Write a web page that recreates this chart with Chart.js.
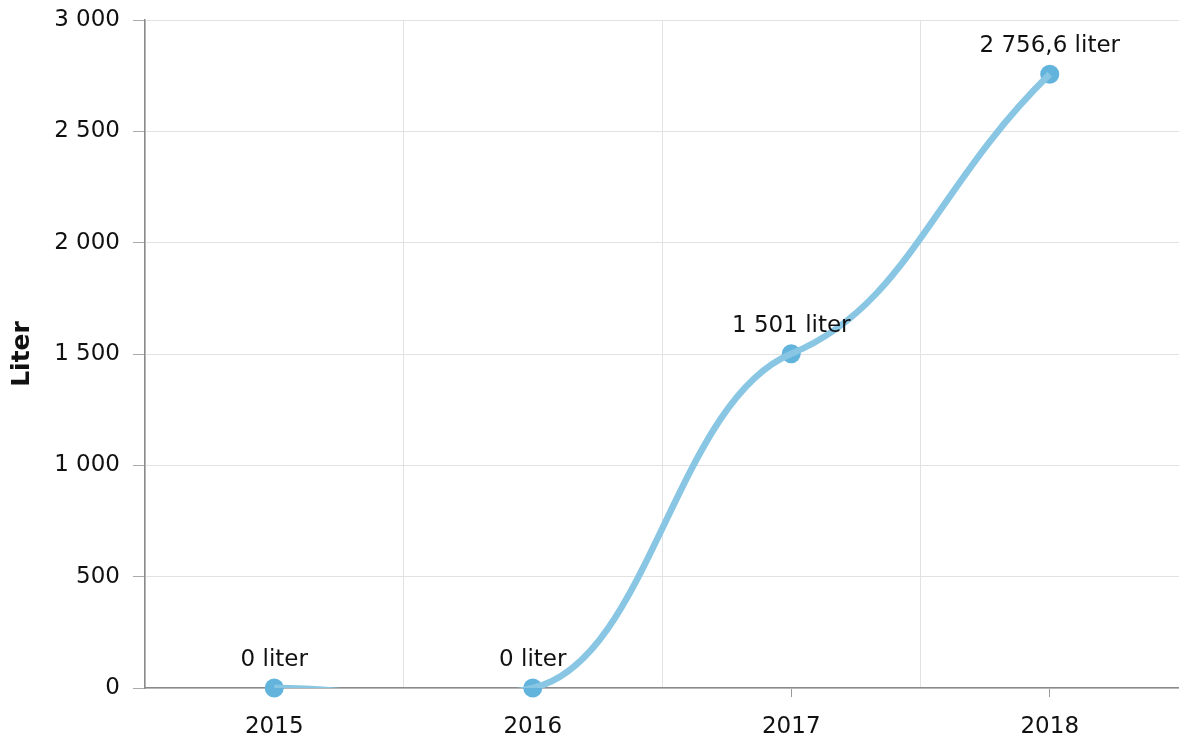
<!DOCTYPE html>
<html>
<head>
<meta charset="utf-8">
<script src="https://cdn.jsdelivr.net/npm/chart.js@4"></script>
<style>
    html, body { margin: 0; padding: 0; background: #fff; }
    #wrap { width: 1179px; height: 740px; }
</style>
</head>
<body>
<div id="wrap"><canvas id="chart"></canvas></div>
<script>
const years = ['2015', '2016', '2017', '2018'];
const liters = [0, 0, 1501, 2756.6];
const unit = 'liter';

const LINE = '#88c6e4';
const POINT = '#62b4dc';
const FONT = 'DejaVu Sans';

//tall med mellomrom som tusenskille og komma som desimaltegn
function fmt(v) {
    const parts = String(Math.round(v * 10) / 10).split('.');
    const int = parts[0].replace(/\B(?=(\d{3})+(?!\d))/g, ' ');
    return parts[1] ? int + ',' + parts[1] : int;
}

//egen glatting: flate tangenter i punktene, lange kontrollarmer
const smoothCurve = {
    id: 'smoothCurve',
    beforeDatasetDraw(chart, args) {
        if (args.index !== 0) return;
        const meta = args.meta;
        const line = meta.dataset;
        line.updateControlPoints(chart.chartArea, 'x');
        const pts = meta.data;
        const n = pts.length;
        const slope = i => {
            if (i === 0) return 0.9 * (pts[1].y - pts[0].y) / (pts[1].x - pts[0].x);
            if (i === n - 1) return 0.9 * (pts[i].y - pts[i - 1].y) / (pts[i].x - pts[i - 1].x);
            return 0.35 * (pts[i + 1].y - pts[i - 1].y) / (pts[i + 1].x - pts[i - 1].x);
        };
        pts.forEach((p, i) => {
            const m = slope(i);
            const dl = i > 0 ? 0.45 * (p.x - pts[i - 1].x) : 0;
            const dr = i < n - 1 ? 0.45 * (pts[i + 1].x - p.x) : 0;
            p.cp1x = p.x - dl;
            p.cp1y = p.y - m * dl;
            p.cp2x = p.x + dr;
            p.cp2y = p.y + m * dr;
        });
    }
};

//etiketter over punktene
const valueLabels = {
    id: 'valueLabels',
    afterDatasetsDraw(chart) {
        const ctx = chart.ctx;
        const meta = chart.getDatasetMeta(1);
        ctx.save();
        ctx.font = '23px ' + FONT;
        ctx.fillStyle = '#111';
        ctx.textAlign = 'center';
        ctx.textBaseline = 'middle';
        meta.data.forEach((pt, i) => {
            ctx.fillText(fmt(liters[i]) + ' ' + unit, pt.x, pt.y - 28);
        });
        ctx.restore();
    }
};

new Chart(document.getElementById('chart'), {
    type: 'line',
    data: {
        labels: years,
        datasets: [
            {
                data: liters,
                borderColor: LINE,
                borderWidth: 6.5,
                tension: 0.4,
                pointRadius: 0,
                fill: false,
                clip: { left: false, top: false, right: false, bottom: 0 }
            },
            {
                data: liters,
                showLine: false,
                pointRadius: 9.5,
                pointHoverRadius: 9.5,
                pointBackgroundColor: POINT,
                pointBorderWidth: 0,
                clip: false
            }
        ]
    },
    options: {
        responsive: true,
        maintainAspectRatio: false,
        animation: false,
        elements: { line: { capBezierPoints: false } },
        layout: { autoPadding: false, padding: { top: 20, right: 0, left: 0, bottom: 0 } },
        plugins: {
            legend: { display: false },
            tooltip: { enabled: false }
        },
        scales: {
            x: {
                offset: true,
                weight: 1,
                grid: { offset: true, color: '#e2e2e2', drawTicks: false },
                border: { color: '#8a8a8a', width: 1.5 },
                ticks: { color: '#111', font: { family: FONT, size: 23 }, padding: 25 },
                afterFit: s => { s.height = 52; s.paddingLeft = 0; s.paddingRight = 0; }
            },
            //bare tikkmerker midt under hver kategori
            x2: {
                type: 'category',
                position: 'bottom',
                offset: true,
                weight: 0,
                grid: { offset: false, drawOnChartArea: false, tickLength: 9, color: '#9a9a9a' },
                border: { display: false },
                ticks: { display: false },
                afterFit: s => { s.height = 0; s.paddingLeft = 0; s.paddingRight = 0; }
            },
            y: {
                min: 0,
                max: 3000,
                ticks: {
                    stepSize: 500,
                    color: '#111',
                    font: { family: FONT, size: 23 },
                    padding: 13,
                    callback: v => fmt(v)
                },
                grid: { color: '#e2e2e2', tickLength: 12, tickColor: '#aaa' },
                border: { color: '#8a8a8a', width: 1.5 },
                title: {
                    display: true,
                    text: 'Liter',
                    color: '#111',
                    font: { family: FONT, size: 25, weight: 'bold' },
                    padding: { top: 7, bottom: 0 }
                },
                afterFit: s => { s.width = 145; s.paddingTop = 0; s.paddingBottom = 0; }
            }
        }
    },
    plugins: [smoothCurve, valueLabels]
});
</script>
</body>
</html>
